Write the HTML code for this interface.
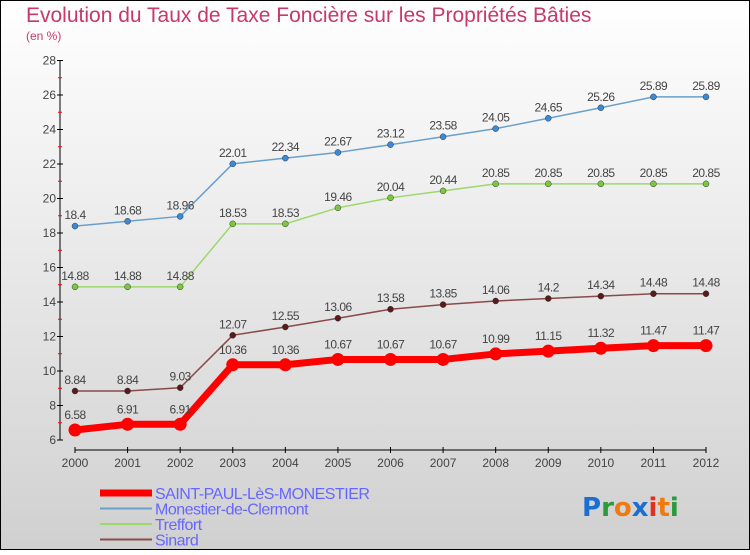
<!DOCTYPE html>
<html><head><meta charset="utf-8"><style>
html,body{margin:0;padding:0}
body{width:750px;height:550px;overflow:hidden;font-family:"Liberation Sans",sans-serif}
</style></head><body>
<svg width="750" height="550" xmlns="http://www.w3.org/2000/svg">
<defs><linearGradient id="bg" x1="0" y1="0" x2="0" y2="1"><stop offset="0" stop-color="#ffffff"/><stop offset="1" stop-color="#d0d0d0"/></linearGradient></defs>
<rect x="0.5" y="0.5" width="749" height="549" fill="url(#bg)" stroke="#000"/>
<text x="26" y="22" font-size="21" fill="#c8386a">Evolution du Taux de Taxe Foncière sur les Propriétés Bâties</text>
<text x="26" y="40" font-size="12" fill="#c8386a">(en %)</text>
<g id="axes"></g>
<g id="series"></g>
<g id="legend"></g>
<g font-size="26" font-weight="bold" font-family="DejaVu Sans, sans-serif">
<text x="582" y="516"><tspan fill="#1a6fd0">P</tspan><tspan fill="#2a9a3a">r</tspan><tspan fill="#f07a10">o</tspan><tspan fill="#1a6fd0">x</tspan><tspan fill="#e03020">i</tspan><tspan fill="#f07a10">t</tspan><tspan fill="#2a9a3a">i</tspan></text>
</g>
</svg>
<script>
const years=[2000,2001,2002,2003,2004,2005,2006,2007,2008,2009,2010,2011,2012];
const yTicks=[6,8,10,12,14,16,18,20,22,24,26,28];
const saint=[6.58,6.91,6.91,10.36,10.36,10.67,10.67,10.67,10.99,11.15,11.32,11.47,11.47];
const monestier=[18.4,18.68,18.96,22.01,22.34,22.67,23.12,23.58,24.05,24.65,25.26,25.89,25.89];
const treffort=[14.88,14.88,14.88,18.53,18.53,19.46,20.04,20.44,20.85,20.85,20.85,20.85,20.85];
const sinard=[8.84,8.84,9.03,12.07,12.55,13.06,13.58,13.85,14.06,14.2,14.34,14.48,14.48];
const seriesNames=["SAINT-PAUL-LèS-MONESTIER","Monestier-de-Clermont","Treffort","Sinard"];

const NS="http://www.w3.org/2000/svg";
const xS=i=>75+i*(706-75)/(years.length-1);
const yS=v=>440-(v-6)*(440-60.5)/22;
function mk(tag,attrs,parent){const e=document.createElementNS(NS,tag);for(const k in attrs)e.setAttribute(k,attrs[k]);parent.appendChild(e);return e;}
const axes=document.getElementById('axes');
let ya=mk('line',{x1:60,y1:60,x2:60,y2:440,stroke:'#000','stroke-width':1},axes);


yTicks.forEach(t=>{
  mk('line',{x1:57,x2:63,y1:yS(t),y2:yS(t),stroke:'#000'},axes);
  if(t<28)mk('line',{x1:58,x2:62,y1:yS(t+1),y2:yS(t+1),stroke:'#f00'},axes);
  const tx=mk('text',{x:56,y:yS(t)+4,'text-anchor':'end','font-size':12,fill:'#444'},axes);
  tx.textContent=t;
  
  
});
let xa=mk('line',{x1:75,y1:450,x2:706,y2:450,stroke:'#000'},axes);


years.forEach((yr,i)=>{
  mk('line',{x1:xS(i),x2:xS(i),y1:447,y2:453,stroke:'#000'},axes);
  const tx=mk('text',{x:xS(i),y:467,'text-anchor':'middle','font-size':12,fill:'#444'},axes);
  tx.textContent=yr;
  
  
});
const sg=document.getElementById('series');
const defs=[[monestier,'#6aa0cc','#3a8ad8',1.5,3,'monestier'],[treffort,'#9cd86c','#7cc83c',1.5,3,'treffort'],[sinard,'#8a4a4a','#5a1a1a',1.5,3,'sinard'],[saint,'#f00','#f00',7,6.5,'saint-paul']];
defs.forEach(([arr,lc,pc,w,r,nm])=>{
  const pts=arr.map((v,i)=>xS(i)+','+yS(v)).join(' ');
  const pl=mk('polyline',{points:pts,fill:'none',stroke:lc,'stroke-width':w,'stroke-linejoin':'round'},sg);
  
  
  arr.forEach((v,i)=>{
    const c=mk('circle',{cx:xS(i),cy:yS(v),r:r,fill:pc,stroke:'#333','stroke-width':nm==='saint-paul'?0:0.5},sg);
    
    
    const t=mk('text',{x:xS(i),y:yS(v)-(nm==='saint-paul'?11:7),'text-anchor':'middle','font-size':12,fill:'#444','letter-spacing':'-0.5'},sg);
    t.textContent=v;
    
    
  });
});
const lg=document.getElementById('legend');
const lcol=['#f00','#6aa0cc','#9cd86c','#8a4a4a'],lw=[7,2,2,2];
seriesNames.forEach((n,i)=>{
  const y=493+i*15.5;
  const l=mk('line',{x1:100,x2:152,y1:y,y2:y,stroke:lcol[i],'stroke-width':lw[i]},lg);
  
  
  const t=mk('text',{x:155,y:y+6,'font-size':16,fill:'#6666ff','letter-spacing':'-0.5'},lg);
  t.textContent=n;
  
  
});
</script>
</body></html>
